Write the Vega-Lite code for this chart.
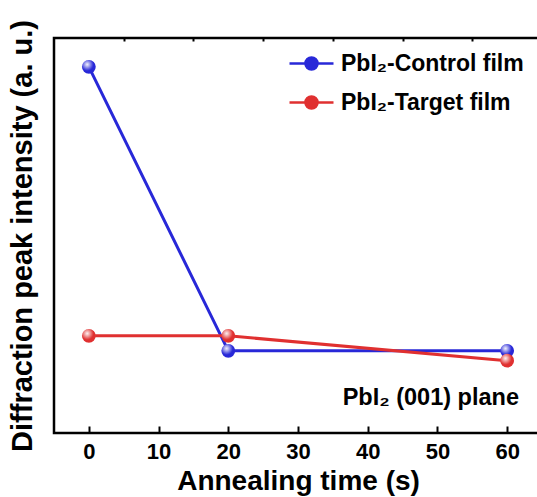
{
  "$schema": "https://vega.github.io/schema/vega-lite/v6.json",
  "autosize": "none",
  "width": 488,
  "height": 395,
  "padding": {"left": 54, "top": 38, "right": 0, "bottom": 64},
  "background": "white",
  "config": {
    "font": "Liberation Sans",
    "view": {"stroke": "black", "strokeWidth": 2.5},
    "axis": {"labelFont": "Liberation Sans", "titleFont": "Liberation Sans", "labelColor": "black", "titleColor": "black", "labelFontWeight": "bold", "titleFontWeight": "bold"}
  },
  "resolve": {"axis": {"x": "independent"}},
  "data": {
    "values": [
      {"t": 0, "v": 92.7, "series": "PbI₂-Control film"},
      {"t": 20, "v": 20.8, "series": "PbI₂-Control film"},
      {"t": 60, "v": 20.8, "series": "PbI₂-Control film"},
      {"t": 0, "v": 24.6, "series": "PbI₂-Target film"},
      {"t": 20, "v": 24.6, "series": "PbI₂-Target film"},
      {"t": 60, "v": 18.3, "series": "PbI₂-Target film"}
    ]
  },
  "layer": [
    {
      "mark": {"type": "line", "strokeWidth": 3},
      "encoding": {
        "x": {"field": "t", "type": "quantitative", "scale": {"domain": [-5, 65], "nice": false, "zero": false},
          "axis": {"values": [0, 10, 20, 30, 40, 50, 60], "domain": false, "grid": false, "offset": -7, "tickSize": 7, "tickWidth": 2, "tickColor": "black", "labelFontSize": 22, "labelPadding": 8, "title": "Annealing time (s)", "titleFontSize": 28, "titlePadding": 5}},
        "y": {"field": "v", "type": "quantitative", "scale": {"domain": [0, 100], "nice": false},
          "axis": {"domain": false, "ticks": false, "labels": false, "grid": false, "title": "Diffraction peak intensity (a. u.)", "titleFontSize": 29, "titlePadding": 17}},
        "color": {"field": "series", "type": "nominal",
          "scale": {"domain": ["PbI₂-Control film", "PbI₂-Target film"], "range": ["#2828d8", "#e03030"]},
          "legend": {"title": null, "orient": "none", "legendX": 245, "legendY": 13, "labelFontSize": 23, "labelFontWeight": "bold", "labelColor": "black", "labelFont": "Liberation Sans", "labelLimit": 400,
            "symbolType": "M-2,0L-0.55,0M0.55,0L2,0M-0.55,0A0.55,0.55 0 1,1 0.55,0A0.55,0.55 0 1,1 -0.55,0Z", "symbolSize": 484, "symbolStrokeWidth": 2.5, "rowPadding": 14, "labelOffset": 17}}
      }
    },
    {
      "mark": {"type": "point", "filled": true, "shape": "circle", "size": 190, "opacity": 1},
      "encoding": {
        "x": {"field": "t", "type": "quantitative", "axis": null},
        "y": {"field": "v", "type": "quantitative"},
        "color": {"field": "series", "type": "nominal"}
      }
    },
    {
      "mark": {"type": "point", "filled": true, "shape": "circle", "size": 190, "opacity": 1,
        "fill": {"gradient": "radial", "x1": 0.38, "y1": 0.33, "r1": 0, "x2": 0.38, "y2": 0.33, "r2": 0.45,
          "stops": [{"offset": 0, "color": "rgba(255,255,255,0.95)"}, {"offset": 1, "color": "rgba(255,255,255,0)"}]}},
      "encoding": {
        "x": {"field": "t", "type": "quantitative", "axis": null},
        "y": {"field": "v", "type": "quantitative"}
      }
    },
    {
      "data": {"values": [{"t": 61.7, "v": 8.9, "label": "PbI₂ (001) plane"}]},
      "mark": {"type": "text", "align": "right", "baseline": "middle", "fontSize": 23.5, "fontWeight": "bold", "font": "Liberation Sans", "color": "black"},
      "encoding": {
        "x": {"field": "t", "type": "quantitative",
          "axis": {"values": [5, 15, 25, 35, 45, 55], "domain": false, "grid": false, "labels": false, "title": null, "offset": -3, "tickSize": 3, "tickWidth": 2, "tickColor": "black"}},
        "y": {"field": "v", "type": "quantitative"},
        "text": {"field": "label"}
      }
    }
  ]
}
